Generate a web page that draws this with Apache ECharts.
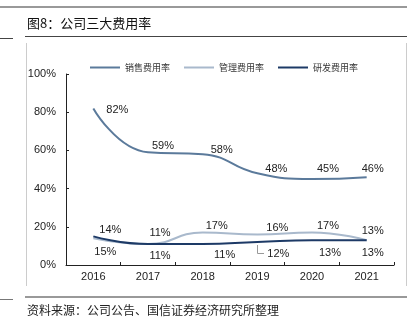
<!DOCTYPE html>
<html><head><meta charset="utf-8">
<script src="https://cdn.jsdelivr.net/npm/echarts@6/dist/echarts.min.js"></script>
<style>html,body{margin:0;padding:0;background:#fff}#c{width:417px;height:325px}</style>
</head><body><div id="c"></div>
<script>
const years = ['2016','2017','2018','2019','2020','2021'];
const salesRate = [82, 59, 58, 48, 45, 46];
const adminRate = [14, 11, 17, 16, 17, 13];
const rdRate = [15, 11, 11, 12, 13, 13];
const yTicks = [0, 20, 40, 60, 80, 100];

const salesOffsets = [[24,2],[15,-6],[19,-4],[19,-4],[16,-10],[6,-8]];
const adminOffsets = [[17,-8],[12,-11],[14,-7],[20,-6],[16,-7],[6,-9]];
const rdOffsets = [[12,16],[12,12],[22,11],[21,12],[18,13],[6,13]];

function build(vals, offs){
  return vals.map((v,i)=>({value:v, label:{offset:offs[i]}}));
}
const lbl = {show:true, position:'inside', formatter: p=>p.value+'%', fontSize:11, color:'#222', fontFamily:'Liberation Sans, Arial, sans-serif'};

const chart = echarts.init(document.getElementById('c'), null, {renderer:'canvas'});
chart.setOption({
  animation:false,
  textStyle:{fontFamily:'Liberation Sans, Arial, sans-serif'},
  grid:{left:66, right:23, top:74, bottom:60},
  legend:{
    top:58, left:85, itemWidth:30, itemHeight:2, itemGap:14, icon:'rect',
    textStyle:{fontSize:9, color:'#333', fontFamily:'Noto Sans CJK SC'},
    data:['销售费用率','管理费用率','研发费用率']
  },
  xAxis:{type:'category', data:years, boundaryGap:true,
    axisLine:{lineStyle:{color:'#222', width:1}},
    axisTick:{show:true, inside:true, length:3, lineStyle:{color:'#222'}},
    axisLabel:{fontSize:11, color:'#222', margin:6}},
  yAxis:{type:'value', min:0, max:100, interval:20,
    axisLine:{show:true, lineStyle:{color:'#222'}},
    axisTick:{show:true, inside:true, length:3, lineStyle:{color:'#222'}},
    splitLine:{show:false},
    axisLabel:{fontSize:11, color:'#222', margin:10, formatter: v=> yTicks.includes(v)? v+'%':''}},
  series:[
    {name:'销售费用率', type:'line', smooth:true, data:build(salesRate, salesOffsets),
      symbol:'circle', symbolSize:0.1, itemStyle:{color:'#5b7a9b'}, lineStyle:{color:'#5b7a9b', width:2}, label:lbl, z:3},
    {name:'管理费用率', type:'line', smooth:true, data:build(adminRate, adminOffsets),
      symbol:'circle', symbolSize:0.1, itemStyle:{color:'#a9b9cc'}, lineStyle:{color:'#a9b9cc', width:2}, label:lbl, z:2},
    {name:'研发费用率', type:'line', smooth:true, data:build(rdRate, rdOffsets),
      symbol:'circle', symbolSize:0.1, itemStyle:{color:'#1d3a66'}, lineStyle:{color:'#1d3a66', width:2}, label:lbl, z:4}
  ],
  graphic:[
    {type:'line', shape:{x1:0,y1:7,x2:407,y2:7}, style:{stroke:'#999', lineWidth:2}},
    {type:'text', left:27, top:17, style:{text:'图8：公司三大费用率', fontSize:13, fill:'#111', fontFamily:'Noto Sans CJK SC'}},
    {type:'line', shape:{x1:25,y1:36.5,x2:407,y2:36.5}, style:{stroke:'#444', lineWidth:1}},
    {type:'line', shape:{x1:0,y1:38.5,x2:13,y2:38.5}, style:{stroke:'#444', lineWidth:1}},
    {type:'line', shape:{x1:26.5,y1:43,x2:26.5,y2:286}, style:{stroke:'#ccc', lineWidth:1}},
    {type:'line', shape:{x1:406.5,y1:43,x2:406.5,y2:286}, style:{stroke:'#ccc', lineWidth:1}},
    {type:'line', shape:{x1:25,y1:297,x2:407,y2:297}, style:{stroke:'#999', lineWidth:2}},
    {type:'line', shape:{x1:0,y1:299.5,x2:13,y2:299.5}, style:{stroke:'#777', lineWidth:1}},
    {type:'polyline', shape:{points:[[257.5,245],[257.5,253.5],[264,253.5]]}, style:{stroke:'#999', lineWidth:1, fill:null}},
    {type:'text', left:27, top:304, style:{text:'资料来源：公司公告、国信证券经济研究所整理', fontSize:12, fill:'#222', fontFamily:'Noto Sans CJK SC'}}
  ]
});
</script></body></html>
